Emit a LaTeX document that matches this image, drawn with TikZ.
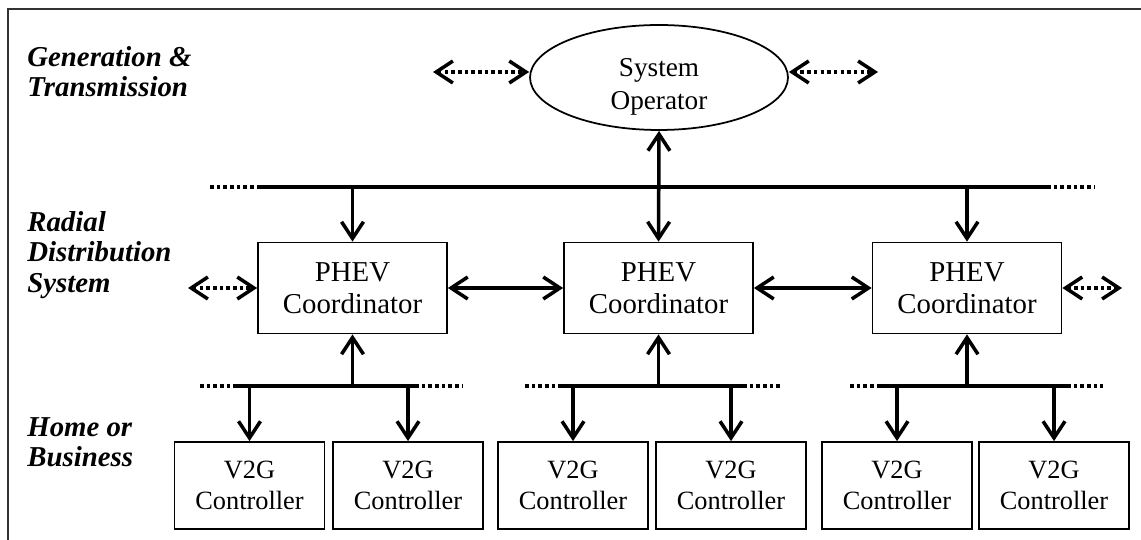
\documentclass[tikz,border=0pt]{standalone}
\usepackage{fontspec}
\setmainfont{Liberation Serif}
\usetikzlibrary{arrows.meta, shapes.geometric, positioning}

\begin{document}
\begin{tikzpicture}[x=0.02cm,y=-0.02cm,
	>={Straight Barb[length=9.5pt,width=12.5pt]},
	conn/.style={line width=2pt},
	dotconn/.style={line width=2pt,dash pattern=on 2pt off 1.8pt},
	box/.style={draw,line width=1pt,align=center,inner sep=0pt},
	coordbox/.style={box,minimum width=3.78cm,minimum height=1.82cm,font=\fontsize{16.4}{18.5}\selectfont},
	ctrlbox/.style={box,minimum width=3cm,minimum height=1.74cm,font=\fontsize{15}{17.5}\selectfont},
	level/.style={anchor=west,align=left,inner sep=0pt,font=\fontsize{16.4}{17.2}\selectfont\bfseries\itshape}]
\useasboundingbox (0,0) rectangle (1141,540);
\draw[line width=1pt,black!80] (8,9) rectangle (1160,560);
\node[level] (L1) at (27,72) {Generation \&\\Transmission};
\node[level] (L2) at (27,255) {Radial\\Distribution\\System};
\node[level] (L3) at (27,442) {Home or\\Business};
\node[ellipse,draw,line width=1pt,minimum width=5.16cm,minimum height=2.1cm] (SO) at (659,77.5) {};
\node[align=center,inner sep=0pt,font=\fontsize{15.5}{19}\selectfont] (SOtext) at (659,87) {System\\Operator};
\foreach \i/\x in {1/352.5,2/658.5,3/967}\node[coordbox] (P\i) at (\x,288) {PHEV\\Coordinator};
\foreach \i/\x in {1/249.5,2/408,3/573,4/731,5/897,6/1054}\node[ctrlbox] (V\i) at (\x,485.5) {V2G\\Controller};
\coordinate (T0) at (210,187); \coordinate (T1) at (260,187);
\coordinate (T2) at (1047,187); \coordinate (T3) at (1095,187);
\draw[dotconn] (T0)--(T1); \draw[conn] (T1)--(T2); \draw[dotconn] (T2)--(T3);
\foreach \i/\a/\b/\c/\d in {1/200/233/415/463,2/525/558/743/782,3/850/880/1067/1103}{
	\coordinate (B\i-0) at (\a,386); \coordinate (B\i-1) at (\b,386);
	\coordinate (B\i-2) at (\c,386); \coordinate (B\i-3) at (\d,386);
	\draw[dotconn] (B\i-0)--(B\i-1); \draw[conn] (B\i-1)--(B\i-2); \draw[dotconn] (B\i-2)--(B\i-3);
	\draw[conn,->] (P\i.south |- B\i-0)--(P\i.south);}
\draw[conn,<->] (SO.south)--(P2.north);
\foreach \i in {1,3}\draw[conn,->] (P\i.north |- T1)--(P\i.north);
\foreach \i/\j in {1/1,1/2,2/3,2/4,3/5,3/6}\draw[conn,->] (V\j.north |- B\i-0)--(V\j.north);
\draw[conn,<->] (P1)--(P2); \draw[conn,<->] (P2)--(P3);
\coordinate (E1) at (433,72); \coordinate (E2) at (878,72);
\coordinate (E3) at (188,288); \coordinate (E4) at (1122,288);
\draw[dotconn,<->] (E1)--(SO.west |- E1); \draw[dotconn,<->] (SO.east |- E2)--(E2);
\draw[dotconn,<->] (E3)--(P1.west); \draw[dotconn,<->] (P3.east)--(E4);
\end{tikzpicture}
\end{document}
